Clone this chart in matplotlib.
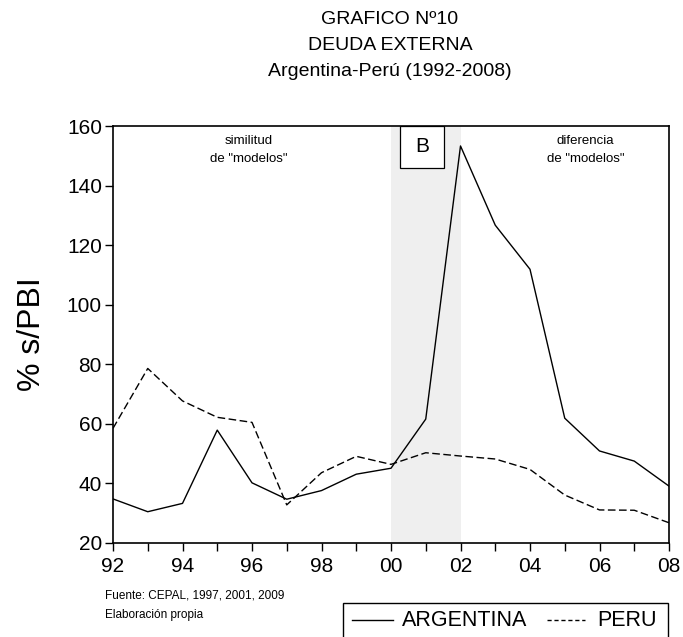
import matplotlib.pyplot as plt
from matplotlib.patches import Rectangle
from matplotlib.lines import Line2D

plt.rcParams["font.family"] = ["Liberation Sans", "DejaVu Sans"]

years = list(range(1992, 2009))
tick_labels = ["92", "94", "96", "98", "00", "02", "04", "06", "08"]
argentina = [34.8, 30.5, 33.3, 57.9, 40.2, 34.7, 37.6, 43.1, 45.1,
             61.6, 153.3, 126.7, 111.9, 61.9, 50.9, 47.5, 39.1]
peru = [58.5, 78.6, 67.7, 62.2, 60.5, 32.8, 43.6, 49.1, 46.4,
        50.3, 49.2, 48.2, 44.7, 36.1, 31.1, 31.0, 26.8]

fig = plt.figure(figsize=(6.83, 6.37), dpi=100)
ax = fig.add_axes([113 / 683, 94 / 637, 556 / 683, 417 / 637])

ax.axvspan(2000, 2002, color="#efefef", lw=0, zorder=0)
ax.plot(years, argentina, color="black", lw=1.0, label="ARGENTINA")
ax.plot(years, peru, color="black", lw=1.0, dashes=(5.5, 2.5), label="PERU")

ax.set_xlim(1992, 2008)
ax.set_ylim(20, 160)
ax.set_xticks(years)
ax.set_xticklabels([tick_labels[i // 2] if i % 2 == 0 else "" for i in range(len(years))])
ax.set_yticks(range(20, 161, 20))
ax.tick_params(direction="out", length=6, width=1, labelsize=15)
ax.tick_params(axis="x", pad=4)
ax.tick_params(axis="y", pad=2)
for s in ax.spines.values():
    s.set_linewidth(1.2)

ax.set_ylabel("% s/PBI", fontsize=23, labelpad=14)

fig.text(390 / 683, 1 - 20 / 637, "GRAFICO Nº10", ha="center", va="center", fontsize=14)
fig.text(390 / 683, 1 - 46 / 637, "DEUDA EXTERNA", ha="center", va="center", fontsize=14)
fig.text(390 / 683, 1 - 72 / 637, "Argentina-Perú (1992-2008)", ha="center", va="center", fontsize=14)

ax.text(1995.9, 152, 'similitud\nde "modelos"', ha="center", va="center",
        fontsize=9.5, linespacing=1.6)
ax.text(2005.6, 152, 'diferencia\nde "modelos"', ha="center", va="center",
        fontsize=9.5, linespacing=1.6)

# "B" box
ax.add_patch(Rectangle((2000.26, 146), 1.27, 14, facecolor="white",
                       edgecolor="black", lw=0.9, zorder=3))
ax.text(2000.9, 153, "B", ha="center", va="center", fontsize=15, zorder=4)

fig.text(105 / 683, 1 - 596 / 637, "Fuente: CEPAL, 1997, 2001, 2009",
         ha="left", va="center", fontsize=8.5)
fig.text(105 / 683, 1 - 615 / 637, "Elaboración propia",
         ha="left", va="center", fontsize=8.5)

# legend box, cut off at the bottom of the figure
fig.patches.append(Rectangle((343 / 683, -0.05), 325 / 683, 0.05 + 34 / 637,
                             transform=fig.transFigure, facecolor="white",
                             edgecolor="black", lw=1.0))
fig.add_artist(Line2D([352 / 683, 393 / 683], [1 - 620 / 637] * 2,
                      transform=fig.transFigure, color="black", lw=1.0))
fig.text(402 / 683, 1 - 620 / 637, "ARGENTINA", ha="left", va="center", fontsize=15.5)
fig.add_artist(Line2D([547 / 683, 585 / 683], [1 - 620 / 637] * 2,
                      transform=fig.transFigure, color="black", lw=1.0, dashes=(3, 2)))
fig.text(597 / 683, 1 - 620 / 637, "PERU", ha="left", va="center", fontsize=15.5)

fig.savefig("out.png", dpi=100)
